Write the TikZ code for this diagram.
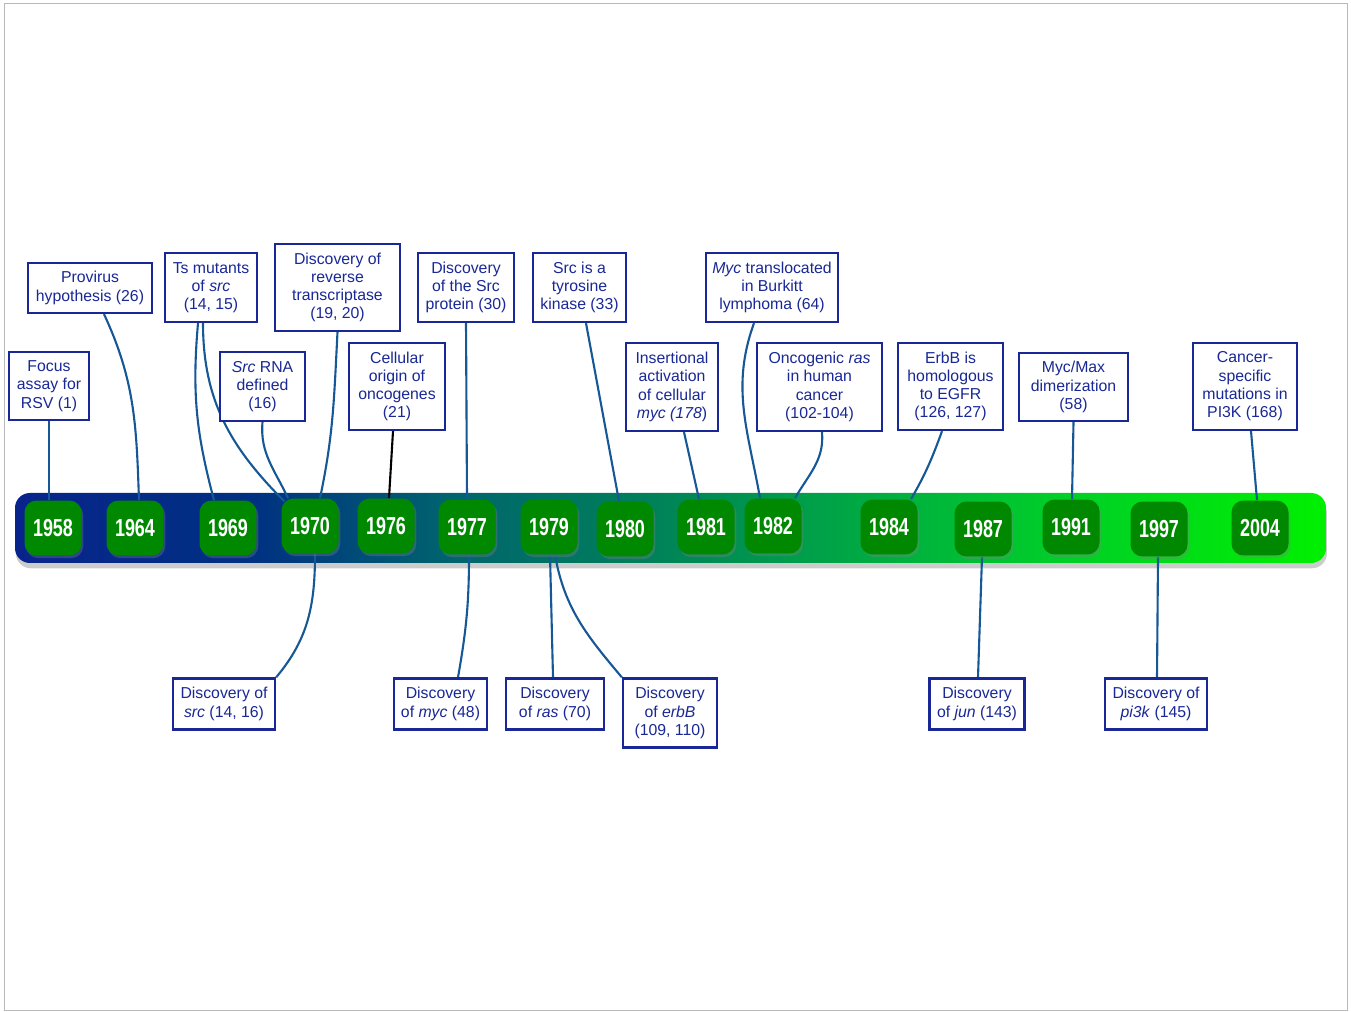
\documentclass[tikz,border=0pt]{standalone}
\usepackage{fontspec}
\setmainfont{Liberation Sans}
\newfontfamily\yearfont[FakeStretch=0.73]{Liberation Sans}
\usetikzlibrary{shadows}
\pgfdeclarelayer{background}
\pgfdeclarelayer{foreground}
\pgfsetlayers{background,main,foreground}
\definecolor{noteblue}{RGB}{25,40,150}
\definecolor{linkblue}{RGB}{22,88,150}
\definecolor{yeargreen}{RGB}{0,136,0}
\definecolor{barA}{RGB}{8,36,140}
\definecolor{barB}{RGB}{0,48,130}
\definecolor{barC}{RGB}{0,100,110}
\definecolor{barD}{RGB}{0,128,90}
\definecolor{barE}{RGB}{0,168,68}
\definecolor{barF}{RGB}{0,205,42}
\definecolor{barG}{RGB}{0,240,0}
\pgfdeclarehorizontalshading{barshade}{100bp}{color(0bp)=(barA); color(25bp)=(barA); color(34bp)=(barB); color(41.6bp)=(barC); color(49bp)=(barD); color(57bp)=(barE); color(64.5bp)=(barF); color(75bp)=(barG); color(100bp)=(barG)}
\tikzset{
  note/.style={draw=noteblue, line width=1.3pt, fill=white, text=noteblue, align=center, inner sep=0pt, font=\fontsize{9}{10.4}\selectfont},
  yearbox/.style={fill=yeargreen, rounded corners=0.24cm, minimum width=1.14cm, minimum height=1.1cm, inner sep=0pt, text=white, font=\yearfont\bfseries\fontsize{14}{14}\selectfont, drop shadow={shadow xshift=1pt, shadow yshift=-1.5pt, opacity=0.35}},
  link/.style={draw=linkblue, line width=1.2pt}
}
\begin{document}
\begin{tikzpicture}[x=0.02cm, y=0.02cm]
\useasboundingbox (0,0) rectangle (1351,1011);
\draw[gray!55, line width=0.5pt] (4,1) rectangle (1347,1008);
\foreach \yr/\x/\y in {1958/53/483, 1964/135/483, 1969/228/483, 1970/310/485, 1976/386/485, 1977/467/484, 1979/549/484, 1980/625/482, 1981/706/484, 1982/773/485, 1984/889/484, 1987/983/482, 1991/1071/484, 1997/1159/482, 2004/1260/483}
  \node[yearbox] (y\yr) at (\x,\y) {\yr};
\node[note, minimum width=2.48cm, minimum height=1.0cm] (provirus) at (90,723) {Provirus\\hypothesis (26)};
\node[note, minimum width=1.84cm, minimum height=1.38cm] (tsmut) at (211,723.5) {Ts mutants\\of \textit{src}\\(14, 15)};
\node[note, minimum width=2.5cm, minimum height=1.74cm] (revtrans) at (337.5,723.5) {Discovery of\\reverse\\transcriptase\\(19, 20)};
\node[note, minimum width=1.6cm, minimum height=1.36cm] (focus) at (49,625) {Focus\\assay for\\RSV (1)};
\node[note, minimum width=1.7cm, minimum height=1.38cm] (srcrna) at (262.5,624.5) {\textit{Src} RNA\\defined\\(16)};
\node[note, minimum width=1.92cm, minimum height=1.74cm] (cellular) at (397,624.5) {Cellular\\origin of\\oncogenes\\(21)};
\node[note, minimum width=1.92cm, minimum height=1.38cm] (srcprot) at (466,723.5) {Discovery\\of the Src\\protein (30)};
\node[note, minimum width=1.86cm, minimum height=1.38cm] (tyrosine) at (579.5,723.5) {Src is a\\tyrosine\\kinase (33)};
\node[note, minimum width=2.64cm, minimum height=1.38cm] (burkitt) at (772,723.5) {\textit{Myc} translocated\\in Burkitt\\lymphoma (64)};
\node[note, minimum width=1.84cm, minimum height=1.76cm] (insert) at (672,624) {Insertional\\activation\\of cellular\\\textit{myc (178})};
\node[note, minimum width=2.5cm, minimum height=1.76cm] (oncoras) at (819.5,624) {Oncogenic \textit{ras}\\in human\\cancer\\(102-104)};
\node[note, minimum width=2.1cm, minimum height=1.74cm] (egfr) at (950.5,624.5) {ErbB is\\homologous\\to EGFR\\(126, 127)};
\node[note, minimum width=2.18cm, minimum height=1.36cm] (mycmax) at (1073.5,624) {Myc/Max\\dimerization\\(58)};
\node[note, minimum width=2.08cm, minimum height=1.74cm] (pikmut) at (1245,624.5) {Cancer-\\specific\\mutations in\\PI3K (168)};
\node[note, minimum width=2.04cm, minimum height=1.02cm] (dsrc) at (224,307) {Discovery of\\\textit{src} (14, 16)};
\node[note, minimum width=1.86cm, minimum height=1.02cm] (dmyc) at (440.5,307) {Discovery\\of \textit{myc} (48)};
\node[note, minimum width=1.96cm, minimum height=1.02cm] (dras) at (555,307) {Discovery\\of \textit{ras} (70)};
\node[note, minimum width=1.88cm, minimum height=1.38cm] (derbb) at (670,298) {Discovery\\of \textit{erbB}\\(109, 110)};
\node[note, minimum width=1.9cm, minimum height=1.02cm] (djun) at (977,307) {Discovery\\of \textit{jun} (143)};
\node[note, minimum width=2.04cm, minimum height=1.02cm] (dpik) at (1156,307) {Discovery of\\\textit{pi3k} (145)};
\begin{pgfonlayer}{background}
\path[shading=barshade, rounded corners=8.5pt, drop shadow={shadow xshift=0.5pt, shadow yshift=-3pt, opacity=0.4}] (15,448) rectangle (1326,518);
\draw[link] (focus.south) -- (focus.south |- y1958.north);
\draw[link] ([xshift=0.28cm]provirus.south) to[out=-65, in=92] ([xshift=0.08cm]y1964.north);
\draw[link] ([xshift=-0.26cm]tsmut.south) to[out=-95, in=105] ([xshift=-0.28cm]y1969.north);
\draw[link] ([xshift=-0.16cm]tsmut.south) to[out=-90, in=135] ([xshift=0.06cm, yshift=-0.06cm]y1970.north west);
\draw[link] (srcrna.south) to[out=-95, in=115] ([xshift=-0.44cm]y1970.north);
\draw[link] (revtrans.south) to[out=-93, in=78] ([xshift=0.2cm]y1970.north);
\draw[line width=1.2pt] ([xshift=-0.08cm]cellular.south) -- ([xshift=0.06cm]y1976.north);
\draw[link] (srcprot.south) -- (y1977.north);
\draw[link] ([xshift=0.13cm]tyrosine.south) -- ([xshift=-0.12cm]y1980.north);
\draw[link] ([xshift=0.24cm]insert.south) -- ([xshift=-0.14cm]y1981.north);
\draw[link] ([xshift=-0.36cm]burkitt.south) to[out=-110, in=100] ([xshift=-0.26cm]y1982.north);
\draw[link] ([xshift=0.05cm]oncoras.south) to[out=-85, in=60] ([xshift=0.44cm]y1982.north);
\draw[link] ([xshift=-0.17cm]egfr.south) to[out=-110, in=60] ([xshift=0.44cm]y1984.north);
\draw[link] (mycmax.south) -- ([xshift=0.02cm]y1991.north);
\draw[link] ([xshift=0.12cm]pikmut.south) -- ([xshift=-0.06cm]y2004.north);
\draw[link] ([xshift=0.1cm]y1970.south) to[out=-90, in=50] (dsrc.north east);
\draw[link] ([xshift=0.04cm]y1977.south) to[out=-90, in=80] ([xshift=0.35cm]dmyc.north);
\draw[link] ([xshift=0.02cm]y1979.south) -- ([xshift=-0.04cm]dras.north);
\draw[link] ([xshift=0.12cm]y1979.south) to[out=-80, in=130] (derbb.north west);
\draw[link] ([xshift=-0.02cm]y1987.south) -- ([xshift=0.02cm]djun.north);
\draw[link] ([xshift=-0.02cm]y1997.south) -- ([xshift=0.02cm]dpik.north);
\end{pgfonlayer}
\end{tikzpicture}
\end{document}
